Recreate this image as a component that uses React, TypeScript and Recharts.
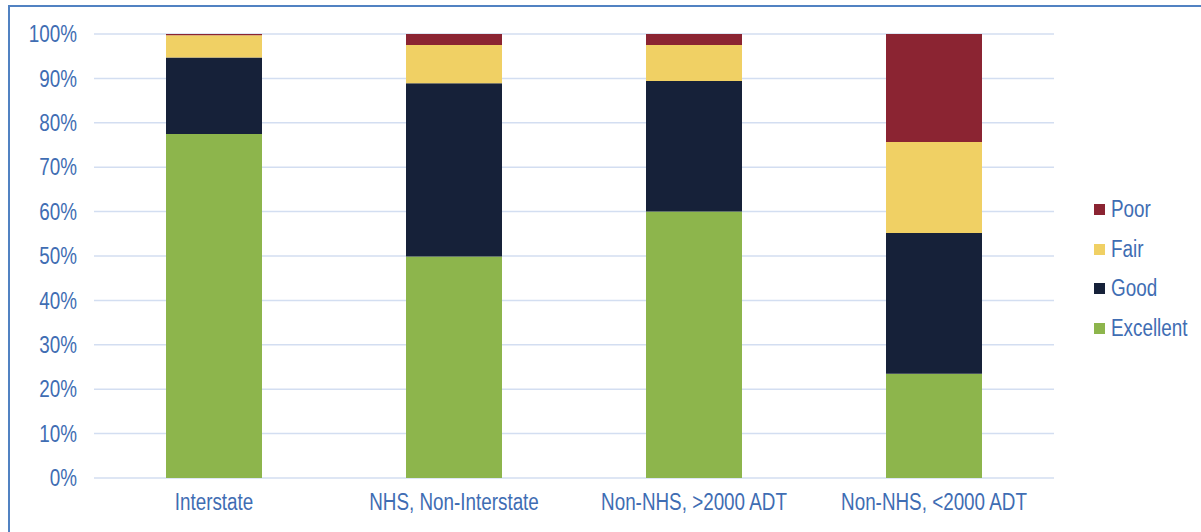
import { BarChart, Bar, XAxis, YAxis, CartesianGrid, Legend } from "recharts";

const categories = ["Interstate", "NHS, Non-Interstate", "Non-NHS, >2000 ADT", "Non-NHS, <2000 ADT"];
const excellent = [77.5, 49.9, 60.0, 23.5];
const good = [17.2, 39.0, 29.4, 31.7];
const fair = [5.0, 8.6, 8.1, 20.5];
const poor = [0.3, 2.5, 2.5, 24.3];
const yTicks = [0, 10, 20, 30, 40, 50, 60, 70, 80, 90, 100];

const series = [
  { key: "excellent", name: "Excellent", color: "#8db54c" },
  { key: "good", name: "Good", color: "#162139" },
  { key: "fair", name: "Fair", color: "#f0d064" },
  { key: "poor", name: "Poor", color: "#8b2432" },
];

const data = categories.map((name, i) => ({
  name,
  excellent: excellent[i],
  good: good[i],
  fair: fair[i],
  poor: poor[i],
}));

// no Arial Narrow here, so squeeze Liberation Sans sideways
const FONT = "'Liberation Sans', Arial, sans-serif";
const SQUEEZE = 0.82;
const TEXT = "#3f6db3";

function XTick({ x, y, payload }: any) {
  return (
    <g transform={`translate(${x},${y})`}>
      <text
        transform={`scale(${SQUEEZE},1)`}
        textAnchor="middle"
        dy="0.71em"
        fontSize={23}
        fontFamily={FONT}
        fill={TEXT}
      >
        {payload.value}
      </text>
    </g>
  );
}

function YTick({ x, y, payload }: any) {
  return (
    <g transform={`translate(${x},${y})`}>
      <text
        transform={`scale(${SQUEEZE},1)`}
        textAnchor="end"
        dy="0.355em"
        fontSize={23}
        fontFamily={FONT}
        fill={TEXT}
      >
        {`${payload.value}%`}
      </text>
    </g>
  );
}

function LegendBox() {
  return (
    <div style={{ fontFamily: FONT, fontSize: 23, color: TEXT }}>
      {[...series].reverse().map((s) => (
        <div key={s.key} style={{ height: 39.6, display: "flex", alignItems: "center" }}>
          <span style={{ width: 11, height: 11, background: s.color, marginRight: 6, display: "inline-block" }} />
          <span style={{ display: "inline-block", transform: `scaleX(${SQUEEZE})`, transformOrigin: "left center" }}>
            {s.name}
          </span>
        </div>
      ))}
    </div>
  );
}

export default function App() {
  return (
    <div style={{ position: "relative", width: 1201, height: 532, overflow: "hidden", background: "#fff" }}>
      <style>{"body{margin:0;overflow:hidden}"}</style>
      <div
        style={{
          position: "absolute",
          left: 8,
          top: 5,
          width: 1300,
          height: 600,
          borderTop: "2px solid #5182c2",
          borderLeft: "2px solid #5182c2",
        }}
      />
      <div style={{ position: "absolute", left: 0, top: 0 }}>
        <BarChart
          width={1201}
          height={532}
          data={data}
          margin={{ top: 34, right: 147, bottom: 0, left: 0 }}
          barCategoryGap="30%"
        >
          <CartesianGrid vertical={false} stroke="#d3def1" strokeWidth={1.5} />
          <XAxis
            dataKey="name"
            height={54}
            axisLine={false}
            tickLine={false}
            tickMargin={10}
            interval={0}
            tick={<XTick />}
          />
          <YAxis
            width={94}
            domain={[0, 100]}
            ticks={yTicks}
            axisLine={false}
            tickLine={false}
            tickMargin={11}
            tick={<YTick />}
          />
          <Legend
            layout="vertical"
            align="center"
            verticalAlign="middle"
            wrapperStyle={{ left: 1094, top: 190, width: 110 }}
            content={() => <LegendBox />}
          />
          {series.map((s) => (
            <Bar
              key={s.key}
              dataKey={s.key}
              name={s.name}
              stackId="a"
              fill={s.color}
              isAnimationActive={false}
            />
          ))}
        </BarChart>
      </div>
    </div>
  );
}
